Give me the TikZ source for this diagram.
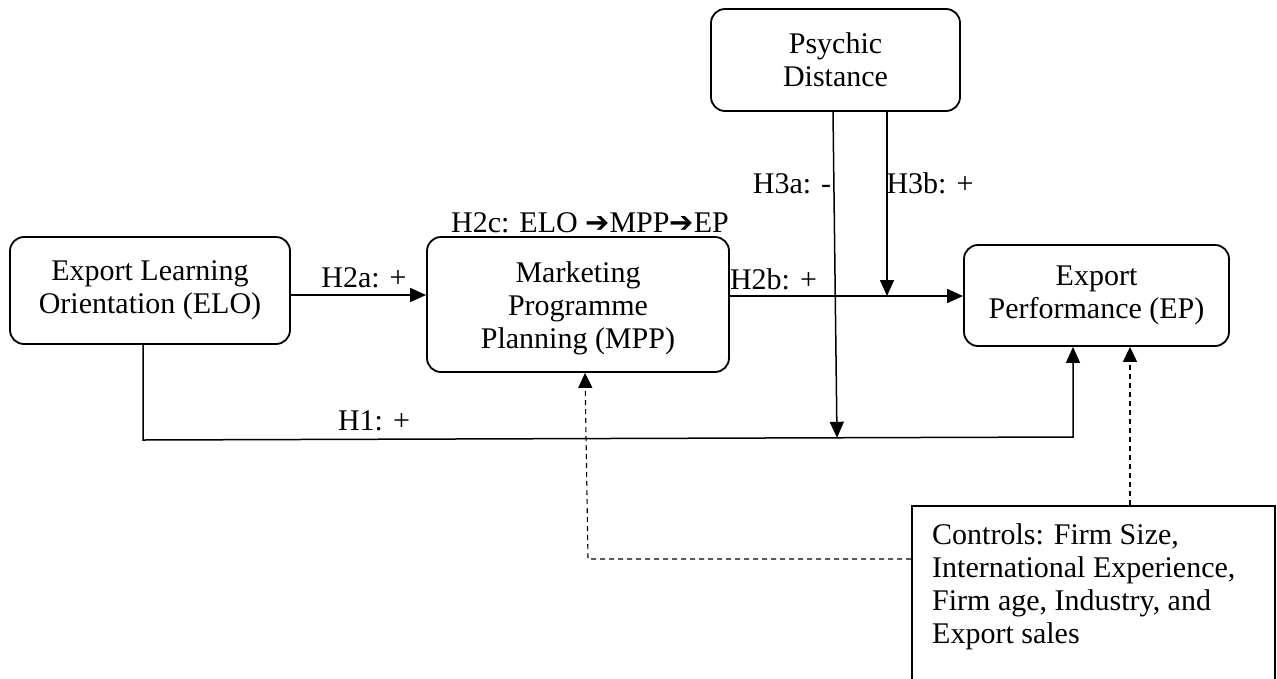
\documentclass[tikz,border=0pt]{standalone}
\usepackage{fontspec}
\setmainfont{Liberation Serif}
\newfontfamily\dejavu{DejaVu Sans}
\usetikzlibrary{arrows.meta,calc}
\begin{document}
\begin{tikzpicture}[x=1pt,y=-1pt,
  every node/.style={font=\fontsize{30}{33}\selectfont, inner sep=0pt},
  rbox/.style={draw, line width=1.8pt, rounded corners=14pt, align=center},
  link/.style={line width=1.5pt, -{Triangle[length=16pt,width=14pt]}},
  ctl/.style={line width=1.1pt, dash pattern=on 5pt off 4pt, -{Triangle[length=15pt,width=14pt]}},
  lbl/.style={anchor=base}]
\useasboundingbox (0,0) rectangle (1277,678);
\clip (0,0) rectangle (1277,678);

% boxes
\node[rbox, minimum width=280pt, minimum height=107pt] (elo) at (150,290.5) {Export Learning\\Orientation (ELO)};
\node[rbox, minimum width=302pt, minimum height=135pt] (mpp) at (578,304.5) {};
\node[align=center, anchor=base] (mpptext) at (578,348) {Marketing\\Programme\\Planning (MPP)};
\node[rbox, minimum width=265pt, minimum height=101pt] (ep) at (1096.5,295.5) {Export\\Performance (EP)};
\node[rbox, minimum width=249pt, minimum height=102pt] (pd) at (835.5,60) {Psychic\\Distance};
\node[draw, line width=2pt, anchor=north west, minimum width=363pt, minimum height=200pt] (ctrl) at (911,505) {};
\node[anchor=north west, align=left] (ctrltext) at (932,523) {Controls: Firm Size,\\International Experience,\\Firm age, Industry, and\\Export sales};

% helper coordinates
\coordinate (h1a) at (143,440);
\coordinate (h1b) at (1073,437);
\coordinate (h3aend) at (837,437.8);
\coordinate (h3astart) at (833,0);
\coordinate (h3bend) at (887,296);
\coordinate (dc) at (588,559);
\coordinate (dtop) at (585,0);
\coordinate (dr) at (1130,0);

% connectors
\draw[link] (elo.east |- 0,295) -- (mpp.west |- 0,295);
\draw[link] (mpp.east |- 0,296) -- (ep.west |- 0,296);
\draw[link] (elo.south -| h1a) -- (h1a) -- (h1b) -- (ep.south -| h1b);
\draw[link] (pd.south -| h3astart) -- (h3aend);
\draw[link] (pd.south -| h3bend) -- (h3bend);
\draw[ctl] (ctrl.west |- dc) -- (dc) -- (mpp.south -| dtop);
\draw[ctl] (ctrl.north -| dr) -- (ep.south -| dr);

% labels
\node[lbl] (h2a) at (364,287) {H2a: +};
\node[lbl] (h2b) at (773.5,289) {H2b: +};
\node[lbl] (h3a) at (792,193) {H3a: -};
\node[lbl] (h3b) at (930,193) {H3b: +};
\node[lbl] (h1) at (374,430) {H1: +};
\node[lbl] (h2c) at (590,232) {H2c: ELO {\dejavu\fontsize{29}{29}\selectfont ➔}MPP{\dejavu\fontsize{29}{29}\selectfont ➔}EP};
\end{tikzpicture}
\end{document}
